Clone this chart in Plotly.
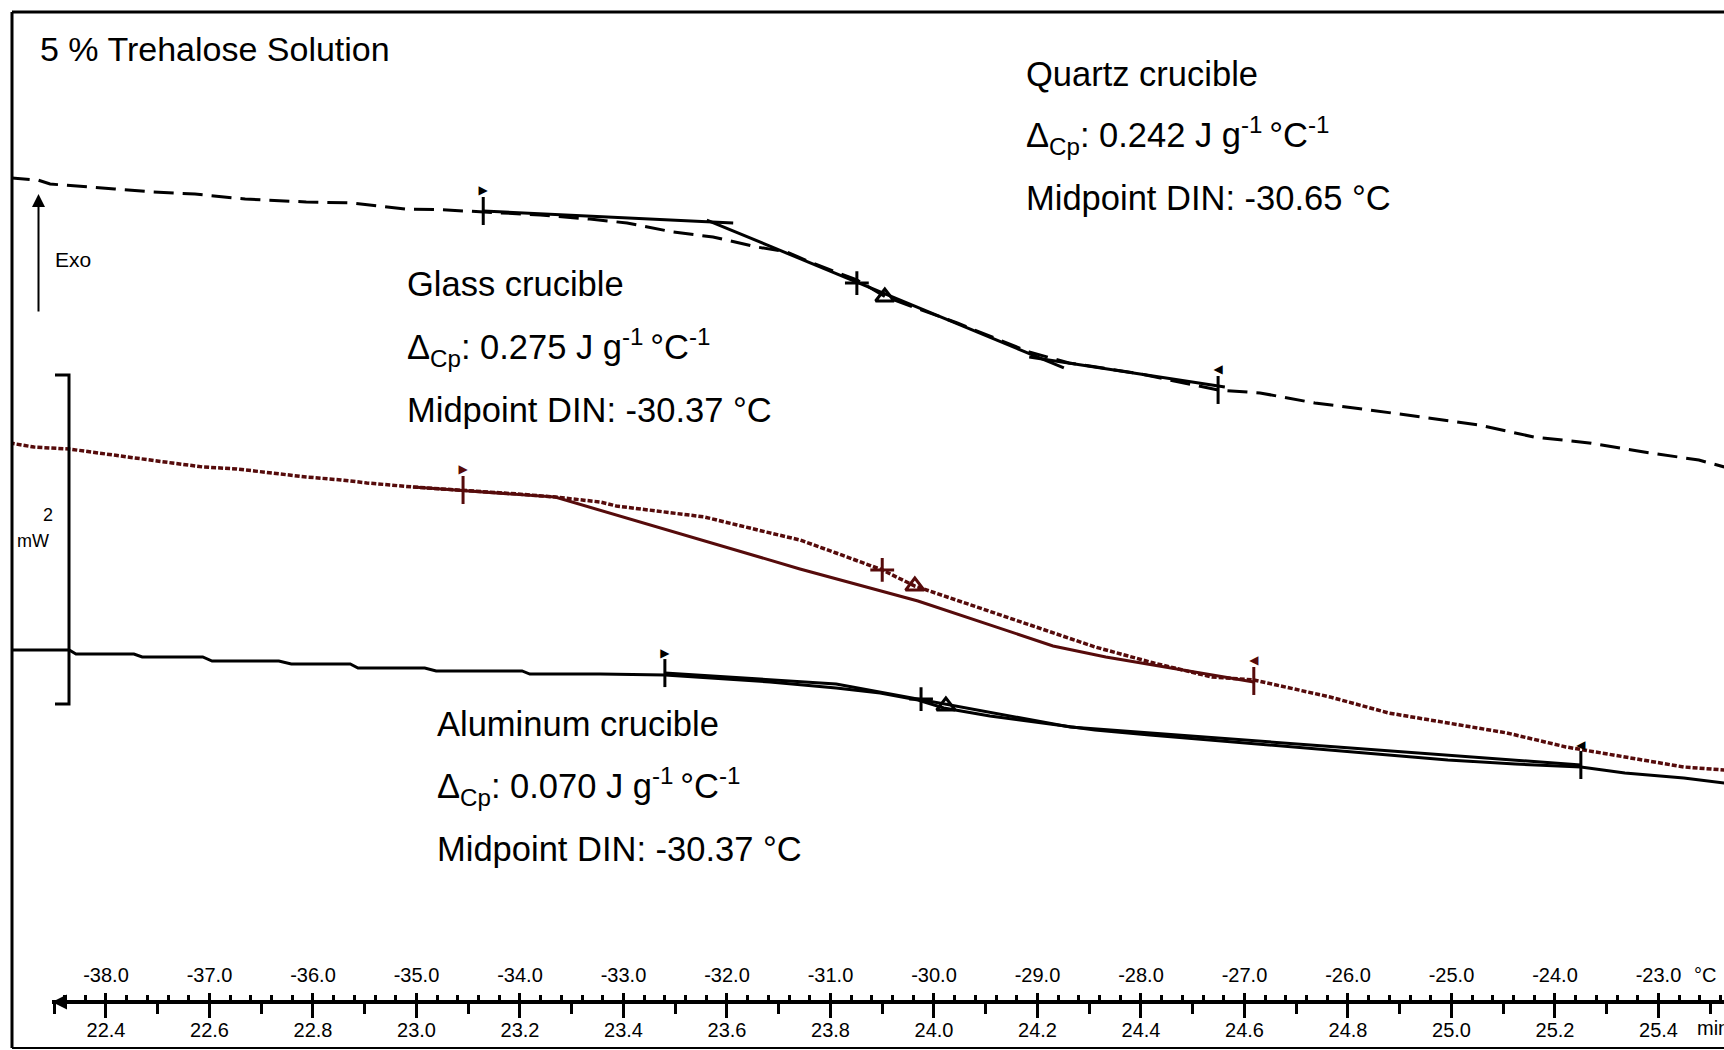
import plotly.graph_objects as go

# ---------------- data (time in min, heat flow in mW, relative) ----------------
TIME_TICKS = [22.4, 22.6, 22.8, 23.0, 23.2, 23.4, 23.6, 23.8, 24.0, 24.2, 24.4, 24.6, 24.8, 25.0, 25.2, 25.4]
TIME_LABELS = ["22.4", "22.6", "22.8", "23.0", "23.2", "23.4", "23.6", "23.8", "24.0", "24.2",
               "24.4", "24.6", "24.8", "25.0", "25.2", "25.4"]
TEMP_TICKS = [-38, -37, -36, -35, -34, -33, -32, -31, -30, -29, -28, -27, -26, -25, -24, -23]
TEMP_LABELS = ["-38.0", "-37.0", "-36.0", "-35.0", "-34.0", "-33.0", "-32.0", "-31.0", "-30.0",
               "-29.0", "-28.0", "-27.0", "-26.0", "-25.0", "-24.0", "-23.0"]

quartz_t = [22.214, 22.269, 22.292, 22.350, 22.417, 22.491, 22.572, 22.669, 22.787, 22.875, 22.980,
            23.045, 23.129, 23.239, 23.335, 23.407, 23.496, 23.573, 23.658, 23.716, 23.760, 23.851,
            23.907, 24.045, 24.184, 24.261, 24.390, 24.549, 24.630, 24.736, 24.843, 24.949, 25.053,
            25.159, 25.266, 25.372, 25.478, 25.527]
quartz_mw = [3.198, 3.185, 3.161, 3.149, 3.131, 3.113, 3.100, 3.070, 3.052, 3.046, 3.009,
             3.005, 2.991, 2.973, 2.948, 2.924, 2.869, 2.839, 2.778, 2.748, 2.687, 2.578,
             2.474, 2.316, 2.140, 2.073, 2.012, 1.909, 1.891, 1.830, 1.787, 1.739, 1.696,
             1.623, 1.587, 1.532, 1.483, 1.441]
quartz_tan_t = [23.129, 23.612, None, 23.561, 24.251, None, 24.184, 24.562]
quartz_tan_mw = [2.997, 2.924, None, 2.942, 2.043, None, 2.109, 1.927]
quartz_flag_t = [23.129, 24.549]
quartz_flag_mw = [2.997, 1.909]
quartz_plus = ([23.851], [2.559])
quartz_mid = ([23.905], [2.474])

glass_t = [22.214, 22.261, 22.329, 22.410, 22.475, 22.528, 22.587, 22.653, 22.721, 22.787, 22.854,
           22.904, 22.993, 23.090, 23.194, 23.268, 23.355, 23.386, 23.556, 23.683, 23.741, 23.811,
           23.900, 23.963, 24.083, 24.197, 24.311, 24.425, 24.537, 24.618, 24.765, 24.879, 24.993,
           25.107, 25.221, 25.335, 25.449, 25.527]
glass_mw = [1.587, 1.562, 1.550, 1.514, 1.489, 1.465, 1.441, 1.429, 1.404, 1.380, 1.362,
            1.344, 1.319, 1.301, 1.277, 1.258, 1.228, 1.204, 1.137, 1.040, 0.997, 0.918,
            0.815, 0.717, 0.590, 0.468, 0.347, 0.249, 0.164, 0.146, 0.043, -0.055, -0.116,
            -0.176, -0.261, -0.322, -0.383, -0.401]
glass_tan_t = [22.993, 23.268, 23.741, 23.969, 24.230, 24.332, 24.618]
glass_tan_mw = [1.319, 1.258, 0.821, 0.626, 0.353, 0.286, 0.134]
glass_flag_t = [23.090, 24.618]
glass_flag_mw = [1.301, 0.140]
glass_plus = ([23.900], [0.815])
glass_mid = ([23.963], [0.717])

alu_t = [22.214, 22.329, 22.342, 22.454, 22.470, 22.587, 22.605, 22.734, 22.758, 22.872, 22.887,
         23.016, 23.038, 23.204, 23.219, 23.355, 23.480, 23.567, 23.683, 23.811, 23.896, 23.969,
         24.019, 24.108, 24.197, 24.311, 24.417, 24.537, 24.649, 24.765, 24.881, 24.993, 25.123,
         25.250, 25.335, 25.449, 25.527]
alu_mw = [0.328, 0.328, 0.304, 0.304, 0.286, 0.286, 0.261, 0.261, 0.243, 0.243, 0.219,
          0.219, 0.201, 0.201, 0.182, 0.182, 0.176, 0.158, 0.134, 0.097, 0.067, 0.024,
          -0.024, -0.073, -0.109, -0.158, -0.188, -0.219, -0.249, -0.280, -0.310, -0.340, -0.365,
          -0.383, -0.420, -0.450, -0.480]
alu_tan_t = [23.480, 23.811, 24.263, 25.250]
alu_tan_mw = [0.188, 0.122, -0.140, -0.371]
alu_flag_t = [23.480, 25.250]
alu_flag_mw = [0.188, -0.371]
alu_plus = ([23.975], [0.030])
alu_mid = ([24.023], [-0.012])

SCALE_BAR_MW = 2

labels = {
    "title": "5 % Trehalose Solution",
    "quartz": ["Quartz crucible", "Δ<sub>Cp</sub>: 0.242 J g<sup>-1 </sup>°C<sup>-1</sup>",
               "Midpoint DIN: -30.65 °C"],
    "glass": ["Glass crucible", "Δ<sub>Cp</sub>: 0.275 J g<sup>-1 </sup>°C<sup>-1</sup>",
              "Midpoint DIN: -30.37 °C"],
    "alu": ["Aluminum crucible", "Δ<sub>Cp</sub>: 0.070 J g<sup>-1 </sup>°C<sup>-1</sup>",
            "Midpoint DIN: -30.37 °C"],
}

# ---------------- styles ----------------
BLACK = "#000000"
RED = "#560b0b"
FONT = "Liberation Sans, Arial, Helvetica, sans-serif"

fig = go.Figure()


def add_curve(t, mw, color, dash, width=3):
    fig.add_trace(go.Scatter(x=t, y=mw, mode="lines", line=dict(color=color, width=width, dash=dash),
                             hoverinfo="skip", showlegend=False))


def add_marks(flag_t, flag_mw, plus, mid, color):
    fig.add_trace(go.Scatter(x=flag_t, y=flag_mw, mode="markers+text",
                             marker=dict(symbol="line-ns", size=20, line=dict(width=3, color=color)),
                             text=["▶", "◀"], textposition="top center",
                             textfont=dict(size=12, color=color, family="DejaVu Sans"),
                             hoverinfo="skip", showlegend=False))
    fig.add_trace(go.Scatter(x=plus[0], y=plus[1], mode="markers",
                             marker=dict(symbol="cross-thin", size=17, line=dict(width=3, color=color)),
                             hoverinfo="skip", showlegend=False))
    fig.add_trace(go.Scatter(x=mid[0], y=mid[1], mode="markers",
                             marker=dict(symbol="triangle-up-open", size=16, color=color,
                                         line=dict(width=3, color=color)),
                             hoverinfo="skip", showlegend=False))


add_curve(quartz_t, quartz_mw, BLACK, "20px,9px")
add_curve(quartz_tan_t, quartz_tan_mw, BLACK, "solid")
add_curve(glass_t, glass_mw, RED, "5px,2px", 3.5)
add_curve(glass_tan_t, glass_tan_mw, RED, "solid")
add_curve(alu_t, alu_mw, BLACK, "solid")
add_curve(alu_tan_t, alu_tan_mw, BLACK, "solid")
add_marks(quartz_flag_t, quartz_flag_mw, quartz_plus, quartz_mid, BLACK)
add_marks(glass_flag_t, glass_flag_mw, glass_plus, glass_mid, RED)
add_marks(alu_flag_t, alu_flag_mw, alu_plus, alu_mid, BLACK)

# invisible anchors so the two ruler axes are drawn
fig.add_trace(go.Scatter(x=[TIME_TICKS[0]], y=[0], xaxis="x2", yaxis="y", mode="markers",
                         marker=dict(opacity=0), hoverinfo="skip", showlegend=False))
fig.add_trace(go.Scatter(x=[TEMP_TICKS[0]], y=[0], xaxis="x3", yaxis="y", mode="markers",
                         marker=dict(opacity=0), hoverinfo="skip", showlegend=False))

W, H = 1724, 1050
ML, MT, MB = 12, 12, 2
PW, PH = W - ML, H - MT - MB


def px(xp):
    return (xp - ML) / PW


def py(yp):
    return (H - MB - yp) / PH


RULER_Y = py(1002)
RULER_X0 = px(52)

tick_font = dict(family=FONT, size=20, color=BLACK)

fig.update_layout(
    width=W, height=H,
    margin=dict(l=ML, r=0, t=MT, b=MB, autoexpand=False),
    paper_bgcolor="white", plot_bgcolor="rgba(0,0,0,0)",
    showlegend=False,
    xaxis=dict(domain=[0, 1], range=[22.2184, 25.5266], visible=False),
    yaxis=dict(domain=[0, 1], range=[-2.0912, 4.2067], visible=False),
    xaxis2=dict(domain=[RULER_X0, 1], range=[22.2957, 25.5266], anchor="free", position=RULER_Y,
                side="bottom", showline=True, linewidth=4, linecolor=BLACK, showgrid=False,
                zeroline=False, ticks="outside", ticklen=14, tickwidth=3, tickcolor=BLACK,
                tickmode="array", tickvals=TIME_TICKS, ticktext=TIME_LABELS, tickfont=tick_font,
                ticklabelstandoff=-5, automargin=False,
                minor=dict(tickmode="linear", tick0=22.4, dtick=0.1, ticks="outside", ticklen=10,
                           tickwidth=2.5, tickcolor=BLACK, showgrid=False)),
    xaxis3=dict(domain=[RULER_X0, 1], range=[-38.5215, -22.367], anchor="free", position=RULER_Y,
                side="top", showline=True, linewidth=4, linecolor=BLACK, showgrid=False,
                zeroline=False, ticks="outside", ticklen=7, tickwidth=3, tickcolor=BLACK,
                tickmode="array", tickvals=TEMP_TICKS, ticktext=TEMP_LABELS, tickfont=tick_font,
                ticklabelstandoff=3, automargin=False,
                minor=dict(tickmode="linear", tick0=-38, dtick=0.2, ticks="outside", ticklen=5,
                           tickwidth=2.5, tickcolor=BLACK, showgrid=False)),
)

# frame
fig.add_shape(type="line", xref="paper", yref="paper", x0=0, x1=0, y0=0, y1=1,
              line=dict(color=BLACK, width=3))
fig.add_shape(type="line", xref="paper", yref="paper", x0=0, x1=1, y0=1, y1=1,
              line=dict(color=BLACK, width=3))
fig.add_shape(type="line", xref="paper", yref="paper", x0=0, x1=1, y0=0, y1=0,
              line=dict(color=BLACK, width=2))

# scale bar (2 mW)
xa, xb = px(55), px(69)
fig.add_shape(type="path", xref="paper", yref="y",
              path=f"M {xa},0 L {xb},0 L {xb},{SCALE_BAR_MW} L {xa},{SCALE_BAR_MW}",
              line=dict(color=BLACK, width=3))

ann = []


def text(x, y, s, size, anchor="left"):
    ann.append(dict(x=x, y=y, xref="paper", yref="paper", text=s, showarrow=False,
                    xanchor=anchor, yanchor="middle", font=dict(family=FONT, size=size, color=BLACK)))


text(px(38), py(49.5), labels["title"], 34)
for i, yy in enumerate([73.7, 135, 198]):
    text(px(1024), py(yy), labels["quartz"][i], 34.5)
for i, yy in enumerate([283.7, 347.4, 410]):
    text(px(405), py(yy), labels["glass"][i], 34.5)
for i, yy in enumerate([723.5, 786.5, 849]):
    text(px(435), py(yy), labels["alu"][i], 34.5)
text(px(53), py(259.5), "Exo", 21)
text(px(47.8), py(515), str(SCALE_BAR_MW), 18, "center")
text(px(32.5), py(541), "mW", 18, "center")
text(px(1692), py(975), "°C", 20)
text(px(1695), py(1028), "min", 20)

# Exo arrow
ann.append(dict(x=px(38.5), y=py(194), xref="paper", yref="paper", text="", showarrow=True,
                ax=0, ay=119, arrowhead=2, arrowsize=1.3, arrowwidth=2, arrowcolor=BLACK))
# ruler left arrow
ann.append(dict(x=px(52), y=RULER_Y, xref="paper", yref="paper", text="", showarrow=True,
                ax=20, ay=0, arrowhead=2, arrowsize=1, arrowwidth=3, arrowcolor=BLACK))

fig.update_layout(annotations=ann)

fig.write_html("out.html", config={"displayModeBar": False},
               post_script="document.body.style.margin='0';document.body.style.overflow='hidden';")
